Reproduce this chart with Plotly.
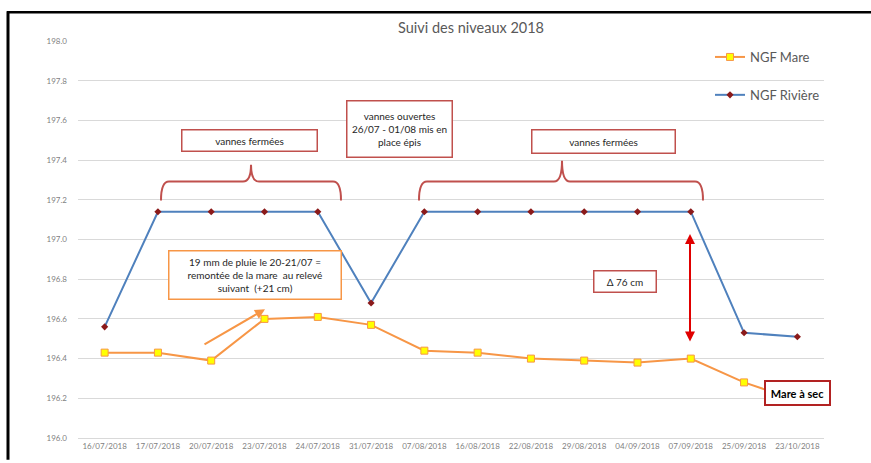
import plotly.graph_objects as go

dates = ["16/07/2018", "17/07/2018", "20/07/2018", "23/07/2018", "24/07/2018",
         "31/07/2018", "07/08/2018", "16/08/2018", "22/08/2018", "29/08/2018",
         "04/09/2018", "07/09/2018", "25/09/2018", "23/10/2018"]
ngf_mare = [196.43, 196.43, 196.39, 196.60, 196.61, 196.57, 196.44, 196.43,
            196.40, 196.39, 196.38, 196.40, 196.28, 196.19]
ngf_riviere = [196.56, 197.14, 197.14, 197.14, 197.14, 196.68, 197.14, 197.14,
               197.14, 197.14, 197.14, 197.14, 196.53, 196.51]

y_ticks = [196.0, 196.2, 196.4, 196.6, 196.8, 197.0, 197.2, 197.4, 197.6, 197.8, 198.0]

W, H = 871, 463
# plot area in page pixels
L, R, T, B = 78, 824, 41, 442

def px(x):
    return (x - L) / (R - L)

def py(y):
    return (B - y) / (B - T)

FONT = "Lato, 'Open Sans', sans-serif"
BOX_RED = "#C0504D"
ORANGE = "#F79646"

fig = go.Figure()
fig.add_trace(go.Scatter(
    x=dates, y=ngf_mare, name="NGF Mare", mode="lines+markers",
    line=dict(color=ORANGE, width=2),
    marker=dict(symbol="square", size=7, color="#FFFF00", line=dict(color=ORANGE, width=1)),
    legendgroup="a"))
fig.add_trace(go.Scatter(
    x=dates, y=ngf_riviere, name="NGF Rivière", mode="lines+markers",
    line=dict(color="#4F81BD", width=2),
    marker=dict(symbol="diamond", size=5.5, color="#8B1A1A"),
    legendgroup="b"))

annotations = []

def box(text, cx, cy, w, h, color=BOX_RED, bw=1.5, size=10, textcolor="#262626"):
    annotations.append(dict(
        text=text, x=px(cx), y=py(cy), xref="paper", yref="paper",
        xanchor="center", yanchor="middle", showarrow=False,
        width=w - 2 * bw, height=h - 2 * bw, borderpad=0,
        bordercolor=color, borderwidth=bw, bgcolor="white",
        font=dict(family=FONT, size=size, color=textcolor), align="center"))

box("vannes fermées", 249.5, 141.5, 137, 23)
box("vannes ouvertes<br>26/07 - 01/08 mis en<br>place épis", 399.5, 129.5, 107, 58)
box("vannes fermées", 603.5, 142.5, 145, 25)
box("19 mm de pluie le 20-21/07 =<br>remontée de la mare  au relevé<br>suivant  (+21 cm)",
    255, 277.5, 174, 50, color=ORANGE, bw=1.5, size=10)
box("Δ 76 cm", 625, 284, 64, 23)
box("<b>Mare à sec</b>", 797.5, 397, 67, 26, color="#B22222", bw=2, size=11, textcolor="black")

# orange arrow
annotations.append(dict(
    x=px(265), y=py(312), xref="paper", yref="paper", text="", showarrow=True,
    ax=203 - 265, ay=348 - 312, arrowhead=2, arrowsize=1, arrowwidth=2, arrowcolor=ORANGE))
# red double arrow
annotations.append(dict(
    x=px(690), y=py(236), xref="paper", yref="paper", text="", showarrow=True,
    ax=0, ay=345 - 236, arrowhead=2, startarrowhead=2, arrowside="end+start",
    arrowsize=1, arrowwidth=2, arrowcolor="#E00000"))

def brace(x0, x1, xc, ybar, yend, ytip):
    r = 8
    pts = (f"M {px(x0)},{py(yend)} Q {px(x0)},{py(ybar)} {px(x0 + r)},{py(ybar)} "
           f"L {px(xc - r)},{py(ybar)} Q {px(xc)},{py(ybar)} {px(xc)},{py(ytip)} "
           f"Q {px(xc)},{py(ybar)} {px(xc + r)},{py(ybar)} "
           f"L {px(x1 - r)},{py(ybar)} Q {px(x1)},{py(ybar)} {px(x1)},{py(yend)}")
    return dict(type="path", path=pts, xref="paper", yref="paper",
                line=dict(color=BOX_RED, width=2))

shapes = [
    brace(161, 341, 251, 183, 202, 166),
    brace(419, 703, 562, 183, 202, 162),
    dict(type="line", xref="paper", yref="paper", x0=px(7), x1=px(872), y0=py(12), y1=py(12),
         line=dict(color="black", width=2.5)),
    dict(type="line", xref="paper", yref="paper", x0=px(8), x1=px(8), y0=py(11), y1=py(464),
         line=dict(color="black", width=3)),
]

fig.update_layout(
    width=W, height=H,
    margin=dict(l=L, r=W - R, t=T, b=H - B),
    paper_bgcolor="white", plot_bgcolor="white",
    font=dict(family=FONT, color="#595959"),
    title=dict(text="Suivi des niveaux 2018", x=471 / W, xanchor="center",
               y=1 - 28 / H, yanchor="middle",
               font=dict(family=FONT, size=14.5, color="#595959")),
    xaxis=dict(type="category", range=[-0.5, len(dates) - 0.5], showgrid=False,
               showline=True, linecolor="#D9D9D9",
               ticks="", tickfont=dict(size=8, color="#7F7F7F"), fixedrange=True),
    yaxis=dict(range=[196, 198], tickvals=y_ticks, tickformat=".1f", showgrid=True,
               gridcolor="#D9D9D9", gridwidth=1, zeroline=False, showline=False,
               ticks="", tickfont=dict(size=8, color="#7F7F7F"), ticklabelstandoff=10),
    legend=dict(x=px(710), y=py(42), xanchor="left", yanchor="top",
                font=dict(family=FONT, size=13, color="#595959"),
                bgcolor="rgba(0,0,0,0)", tracegroupgap=18, traceorder="grouped",
                itemwidth=30),
    annotations=annotations,
    shapes=shapes,
)

fig.write_html("out.html", config={"displayModeBar": False},
               post_script="document.body.style.margin='0';document.body.style.overflow='hidden';")
